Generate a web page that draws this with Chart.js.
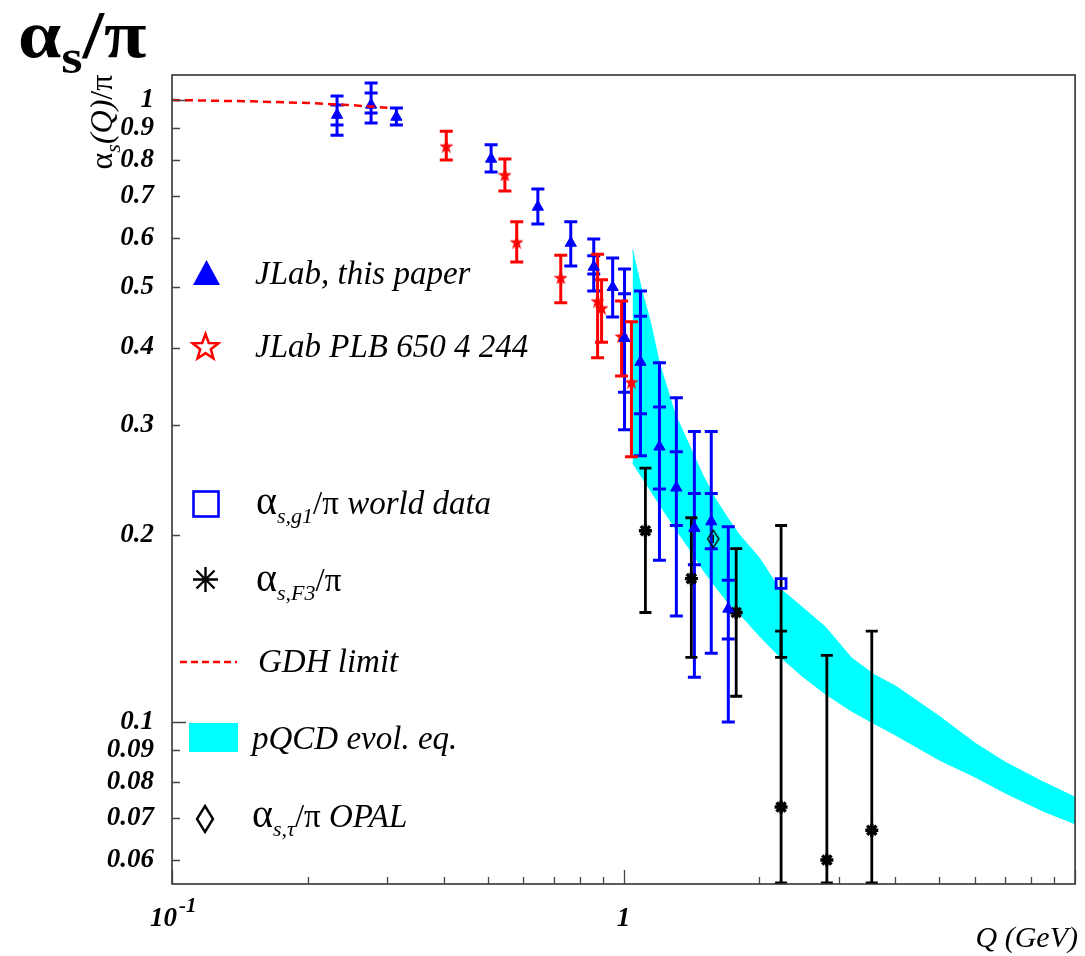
<!DOCTYPE html>
<html>
<head>
<meta charset="utf-8">
<script src="https://cdn.jsdelivr.net/npm/chart.js@4.4.1/dist/chart.umd.min.js"></script>
<style>
  body { margin: 0; background: #fff; }
  #wrap { position: relative; width: 1085px; height: 956px; font-family: "Liberation Serif", "Times New Roman", serif; }
  #wrap canvas { position: absolute; left: 0; top: 0; }
  .lbl { position: absolute; white-space: nowrap; line-height: 1; color: #000; }
  .lbl span { line-height: 0; }
  .leg { font-size: 33px; font-style: italic; }
  .greek { font-style: normal; font-size: 40px; }
  .up { font-style: normal; }
  .sub { font-size: 22px; position: relative; top: 9px; font-style: italic; }
</style>
</head>
<body>
<div id="wrap">
  <canvas id="chart" width="1085" height="956"></canvas>

  <div class="lbl" style="left:18px; top:0px; font-size:68px; font-weight:bold; transform:scaleX(1.14); transform-origin:left top;">α<span style="font-size:48px; position:relative; top:16px;">s</span>/π</div>
  <div class="lbl" style="left:101px; top:122px; font-size:32px; transform:translate(-50%,-50%) rotate(-90deg);">α<span style="font-size:22px; font-style:italic; position:relative; top:8px;">s</span><i>(Q)</i>/π</div>

  <div class="lbl leg" style="left:255px; top:257px;">JLab, this paper</div>
  <div class="lbl leg" style="left:255px; top:330px;">JLab PLB 650 4 244</div>
  <div class="lbl leg" style="left:256px; top:487px;"><span class="greek">α</span><span class="sub">s,g1</span><span class="up">/π</span> world data</div>
  <div class="lbl leg" style="left:256px; top:564px;"><span class="greek">α</span><span class="sub">s,F3</span><span class="up">/π</span></div>
  <div class="lbl leg" style="left:258px; top:645px;">GDH limit</div>
  <div class="lbl leg" style="left:252px; top:722px;">pQCD evol. eq.</div>
  <div class="lbl leg" style="left:252px; top:800px;"><span class="greek">α</span><span class="sub">s,τ</span><span class="up">/π</span> OPAL</div>

  <div class="lbl" style="left:150px; top:904px; font-size:27px; font-weight:bold; font-style:italic;">10<span style="font-size:21px; position:relative; top:-14px; margin-left:2px;">-1</span></div>
  <div class="lbl" style="right:7px; top:922px; font-size:30px; font-style:italic;">Q (GeV)</div>
</div>

<script>
// --- data ---
// JLab, this paper (blue triangles)
const jlabQ      = [0.232, 0.276, 0.314, 0.509, 0.646, 0.764, 0.859, 0.946, 1.005, 1.090, 1.201, 1.309, 1.435, 1.564, 1.706];
const jlabVal    = [0.946, 0.982, 0.939, 0.804, 0.673, 0.589, 0.539, 0.500, 0.414, 0.379, 0.277, 0.238, 0.205, 0.210, 0.152];
const jlabHi     = [1.015, 1.065, 0.971, 0.847, 0.719, 0.637, 0.598, 0.557, 0.535, 0.493, 0.378, 0.332, 0.293, 0.293, 0.206];
const jlabLo     = [0.878, 0.918, 0.912, 0.766, 0.632, 0.541, 0.493, 0.448, 0.295, 0.268, 0.182, 0.148, 0.118, 0.129, 0.100];
const jlabStatHi = [0.982, 1.026, null, null, null, null, 0.562, null, 0.488, 0.449, 0.321, 0.272, 0.233, 0.233, 0.169];
const jlabStatLo = [0.912, 0.953, null, null, null, null, 0.525, null, 0.339, 0.313, 0.237, 0.207, 0.179, 0.190, 0.136];

// JLab PLB 650 4 244 (red stars)
const plbQ   = [0.405, 0.546, 0.580, 0.726, 0.876, 0.894, 0.990, 1.041];
const plbVal = [0.843, 0.758, 0.591, 0.518, 0.475, 0.463, 0.417, 0.352];
const plbHi  = [0.891, 0.804, 0.637, 0.563, 0.565, 0.514, 0.475, 0.440];
const plbLo  = [0.801, 0.714, 0.549, 0.472, 0.385, 0.408, 0.360, 0.267];

// alpha_s,F3 / pi (black asterisks)
const f3Q   = [1.118, 1.413, 1.776, 2.233, 2.82, 3.546];
const f3Val = [0.203, 0.170, 0.150, 0.073, 0.060, 0.067];
const f3Hi  = [0.256, 0.213, 0.190, 0.140, 0.128, 0.140];
const f3Lo  = [0.150, 0.127, 0.110, 0.006, 0.010, 0.010];

// alpha_s,g1 / pi world data (blue square)
const g1Q = [2.233], g1Val = [0.167], g1Hi = [0.207], g1Lo = [0.127];

// alpha_s,tau / pi OPAL (diamond)
const opalQ = [1.58], opalVal = [0.197], opalHi = [0.200], opalLo = [0.194];

// GDH limit (dashed)
const gdhQ   = [0.1, 0.15, 0.2, 0.25, 0.3];
const gdhVal = [1.0, 0.995, 0.989, 0.981, 0.972];

// pQCD evolution band
const bandQ  = [1.047, 1.10, 1.15, 1.20, 1.30, 1.40, 1.50, 1.60, 1.70, 1.80, 2.0, 2.2, 2.5, 2.8, 3.2, 3.6, 4.0, 5.0, 6.0, 7.0, 8.5, 10];
const bandHi = [0.574, 0.491, 0.436, 0.378, 0.313, 0.278, 0.249, 0.228, 0.213, 0.2005, 0.1835, 0.1648, 0.1525, 0.1421, 0.1267, 0.119, 0.1143, 0.1022, 0.0925, 0.0862, 0.0801, 0.0757];
const bandLo = [0.261, 0.247, 0.235, 0.224, 0.205, 0.1897, 0.1756, 0.1648, 0.1559, 0.1497, 0.1375, 0.1281, 0.1181, 0.1109, 0.1041, 0.0993, 0.0953, 0.0869, 0.0816, 0.0769, 0.0719, 0.0686];

// axes
const yTicks = [0.06, 0.07, 0.08, 0.09, 0.1, 0.2, 0.3, 0.4, 0.5, 0.6, 0.7, 0.8, 0.9, 1];
const yTickLabels = ['0.06', '0.07', '0.08', '0.09', '0.1', '0.2', '0.3', '0.4', '0.5', '0.6', '0.7', '0.8', '0.9', '1'];
const xTicks = [0.1, 0.2, 0.3, 0.4, 0.5, 0.6, 0.7, 0.8, 0.9, 1, 2, 3, 4, 5, 6, 7, 8, 9, 10];
const xMajor = [0.1, 1, 10];

const pts = (q, v) => q.map((x, i) => ({ x, y: v[i] }));

// small marker images
function starImg(size, color, lw) {
    const c = document.createElement('canvas');
    c.width = c.height = size;
    const g = c.getContext('2d');
    starPath(g, size / 2, size / 2 + 0.5, size / 2 - lw, (size / 2 - lw) * 0.42);
    g.strokeStyle = color; g.lineWidth = lw; g.stroke();
    return c;
}
function starPath(g, cx, cy, R, r) {
    g.beginPath();
    for (let k = 0; k < 10; k++) {
        const a = -Math.PI / 2 + k * Math.PI / 5;
        const rr = k % 2 ? r : R;
        g.lineTo(cx + rr * Math.cos(a), cy + rr * Math.sin(a));
    }
    g.closePath();
}
function diamondImg(w, h, lw) {
    const c = document.createElement('canvas');
    c.width = w; c.height = h;
    const g = c.getContext('2d');
    g.beginPath();
    g.moveTo(w / 2, lw); g.lineTo(w - lw, h / 2); g.lineTo(w / 2, h - lw); g.lineTo(lw, h / 2); g.closePath();
    g.strokeStyle = '#000'; g.lineWidth = lw; g.stroke();
    return c;
}

const BAND_TOP = 6;

// vertical error bars with caps, drawn right after the band
const errorBars = {
    id: 'errorBars',
    afterDatasetDraw(chart, args) {
        if (args.index !== BAND_TOP) return;
        const { ctx, chartArea: a, scales: { x, y } } = chart;
        ctx.save();
        ctx.beginPath();
        ctx.rect(a.left, a.top - 2, a.right - a.left, a.bottom - a.top + 2);
        ctx.clip();
        chart.data.datasets.forEach(ds => {
            if (!ds.errHi) return;
            ctx.strokeStyle = ds.barColor;
            ctx.lineWidth = ds.barWidth;
            const h = ds.capHalf;
            ds.data.forEach((p, i) => {
                const px = x.getPixelForValue(p.x);
                const top = Math.max(y.getPixelForValue(ds.errHi[i]), a.top);
                const bot = Math.min(y.getPixelForValue(ds.errLo[i]), a.bottom - 1);
                ctx.beginPath();
                ctx.moveTo(px, top); ctx.lineTo(px, bot);
                ctx.moveTo(px - h, top); ctx.lineTo(px + h, top);
                ctx.moveTo(px - h, bot); ctx.lineTo(px + h, bot);
                if (ds.statHi && ds.statHi[i] != null) {
                    const s1 = y.getPixelForValue(ds.statHi[i]);
                    const s2 = y.getPixelForValue(ds.statLo[i]);
                    ctx.moveTo(px - h, s1); ctx.lineTo(px + h, s1);
                    ctx.moveTo(px - h, s2); ctx.lineTo(px + h, s2);
                }
                ctx.stroke();
            });
        });
        ctx.restore();
    }
};

// frame and inward tick marks
const frame = {
    id: 'frame',
    afterDatasetsDraw(chart) {
        const { ctx, chartArea: a, scales: { x, y } } = chart;
        ctx.save();
        ctx.strokeStyle = '#333';
        ctx.lineWidth = 1.6;
        ctx.strokeRect(a.left, a.top, a.right - a.left, a.bottom - a.top);
        ctx.lineWidth = 1.3;
        ctx.strokeStyle = '#444';
        ctx.beginPath();
        x.ticks.forEach(t => {
            const px = Math.round(x.getPixelForValue(t.value)) + 0.5;
            const len = xMajor.includes(t.value) ? 14 : 7;
            ctx.moveTo(px, a.bottom); ctx.lineTo(px, a.bottom - len);
        });
        y.ticks.forEach(t => {
            const py = Math.round(y.getPixelForValue(t.value)) + 0.5;
            const len = (t.value === 1 || t.value === 0.1) ? 14 : 8;
            ctx.moveTo(a.left, py); ctx.lineTo(a.left + len, py);
        });
        ctx.stroke();
        ctx.restore();
    }
};

// legend symbols (text is in HTML)
const legendMarks = {
    id: 'legendMarks',
    afterDraw(chart) {
        const ctx = chart.ctx;
        ctx.save();
        // triangle
        ctx.fillStyle = '#0000ff';
        ctx.beginPath(); ctx.moveTo(206.5, 260); ctx.lineTo(220, 285); ctx.lineTo(193, 285); ctx.closePath(); ctx.fill();
        // open star
        starPath(ctx, 205.5, 347.5, 13.5, 5.6);
        ctx.strokeStyle = '#ff0000'; ctx.lineWidth = 2.5; ctx.stroke();
        // open square
        ctx.strokeStyle = '#0000ff'; ctx.lineWidth = 2.6;
        ctx.strokeRect(193.5, 491.5, 25, 25);
        // asterisk
        ctx.strokeStyle = '#000'; ctx.lineWidth = 2.4;
        ctx.beginPath();
        ctx.moveTo(205.5, 567); ctx.lineTo(205.5, 592);
        ctx.moveTo(193, 579.5); ctx.lineTo(218, 579.5);
        ctx.moveTo(196.5, 570.5); ctx.lineTo(214.5, 588.5);
        ctx.moveTo(214.5, 570.5); ctx.lineTo(196.5, 588.5);
        ctx.stroke();
        // dashed line
        ctx.strokeStyle = '#ff0000'; ctx.lineWidth = 2.5; ctx.setLineDash([7, 4]);
        ctx.beginPath(); ctx.moveTo(180, 662); ctx.lineTo(237, 662); ctx.stroke();
        ctx.setLineDash([]);
        // band swatch
        ctx.fillStyle = '#00ffff';
        ctx.fillRect(189, 723, 49, 29);
        // diamond
        ctx.strokeStyle = '#000'; ctx.lineWidth = 2.4;
        ctx.beginPath(); ctx.moveTo(205, 806); ctx.lineTo(213, 819); ctx.lineTo(205, 832); ctx.lineTo(197, 819); ctx.closePath(); ctx.stroke();
        ctx.restore();
    }
};

const tickFont = { family: 'Liberation Serif', size: 27, style: 'italic', weight: 'bold' };

new Chart(document.getElementById('chart'), {
    type: 'scatter',
    data: {
        datasets: [
            {
                label: 'GDH limit',
                data: pts(gdhQ, gdhVal),
                showLine: true,
                borderColor: '#ff0000',
                borderWidth: 2.5,
                borderDash: [8, 5],
                pointRadius: 0,
                order: 1
            },
            {
                label: 'JLab, this paper',
                data: pts(jlabQ, jlabVal),
                pointStyle: 'triangle',
                pointRadius: 6.5,
                backgroundColor: '#0000ff',
                borderColor: '#0000ff',
                borderWidth: 1,
                errHi: jlabHi, errLo: jlabLo, statHi: jlabStatHi, statLo: jlabStatLo,
                barColor: '#0000ff', barWidth: 3, capHalf: 6.5,
                order: 2
            },
            {
                label: 'JLab PLB 650 4 244',
                data: pts(plbQ, plbVal),
                pointStyle: starImg(13, '#ff0000', 2.4),
                errHi: plbHi, errLo: plbLo,
                barColor: '#ff0000', barWidth: 3, capHalf: 6.5,
                order: 3
            },
            {
                label: 'alpha_s,F3/pi',
                data: pts(f3Q, f3Val),
                pointStyle: 'star',
                pointRadius: 6.5,
                borderColor: '#000',
                borderWidth: 3.4,
                errHi: f3Hi, errLo: f3Lo,
                barColor: '#000', barWidth: 2.8, capHalf: 6,
                order: 4
            },
            {
                label: 'alpha_s,g1/pi world data',
                data: pts(g1Q, g1Val),
                pointStyle: 'rect',
                pointRadius: 7,
                borderColor: '#0000ff',
                backgroundColor: 'rgba(0,0,0,0)',
                borderWidth: 2.8,
                errHi: g1Hi, errLo: g1Lo,
                barColor: '#000', barWidth: 2.8, capHalf: 6,
                order: 5
            },
            {
                label: 'alpha_s,tau/pi OPAL',
                data: pts(opalQ, opalVal),
                pointStyle: diamondImg(14, 20, 1.4),
                errHi: opalHi, errLo: opalLo,
                barColor: '#000', barWidth: 1.5, capHalf: 0,
                order: 6
            },
            {
                label: 'pQCD top',
                data: pts(bandQ, bandHi),
                showLine: true,
                borderColor: '#00ffff',
                borderWidth: 1,
                pointRadius: 0,
                order: 20
            },
            {
                label: 'pQCD evol. eq.',
                data: pts(bandQ, bandLo),
                showLine: true,
                borderColor: '#00ffff',
                borderWidth: 1,
                backgroundColor: '#00ffff',
                fill: '-1',
                pointRadius: 0,
                order: 21
            }
        ]
    },
    options: {
        responsive: false,
        animation: false,
        events: [],
        layout: { padding: { top: 75, right: 5, left: 0, bottom: 0 } },
        plugins: {
            legend: { display: false },
            tooltip: { enabled: false }
        },
        scales: {
            x: {
                type: 'logarithmic',
                min: 0.1,
                max: 10,
                afterBuildTicks: s => { s.ticks = xTicks.map(v => ({ value: v })); },
                afterFit: s => { s.height = 72; s.paddingLeft = 0; s.paddingRight = 0; },
                grid: { display: false },
                border: { display: false },
                ticks: {
                    autoSkip: false, maxRotation: 0, padding: 11, color: '#000', font: tickFont,
                    callback: v => (v === 1 ? '1' : '')
                }
            },
            y: {
                type: 'logarithmic',
                min: 0.0549,
                max: 1.097,
                afterBuildTicks: s => { s.ticks = yTicks.map(v => ({ value: v })); },
                afterFit: s => { s.width = 172; s.paddingTop = 0; s.paddingBottom = 0; },
                grid: { display: false },
                border: { display: false },
                ticks: {
                    autoSkip: false, padding: 10, color: '#000', font: tickFont,
                    callback: (v, i) => yTickLabels[i]
                }
            }
        }
    },
    plugins: [errorBars, frame, legendMarks]
});
</script>
</body>
</html>
